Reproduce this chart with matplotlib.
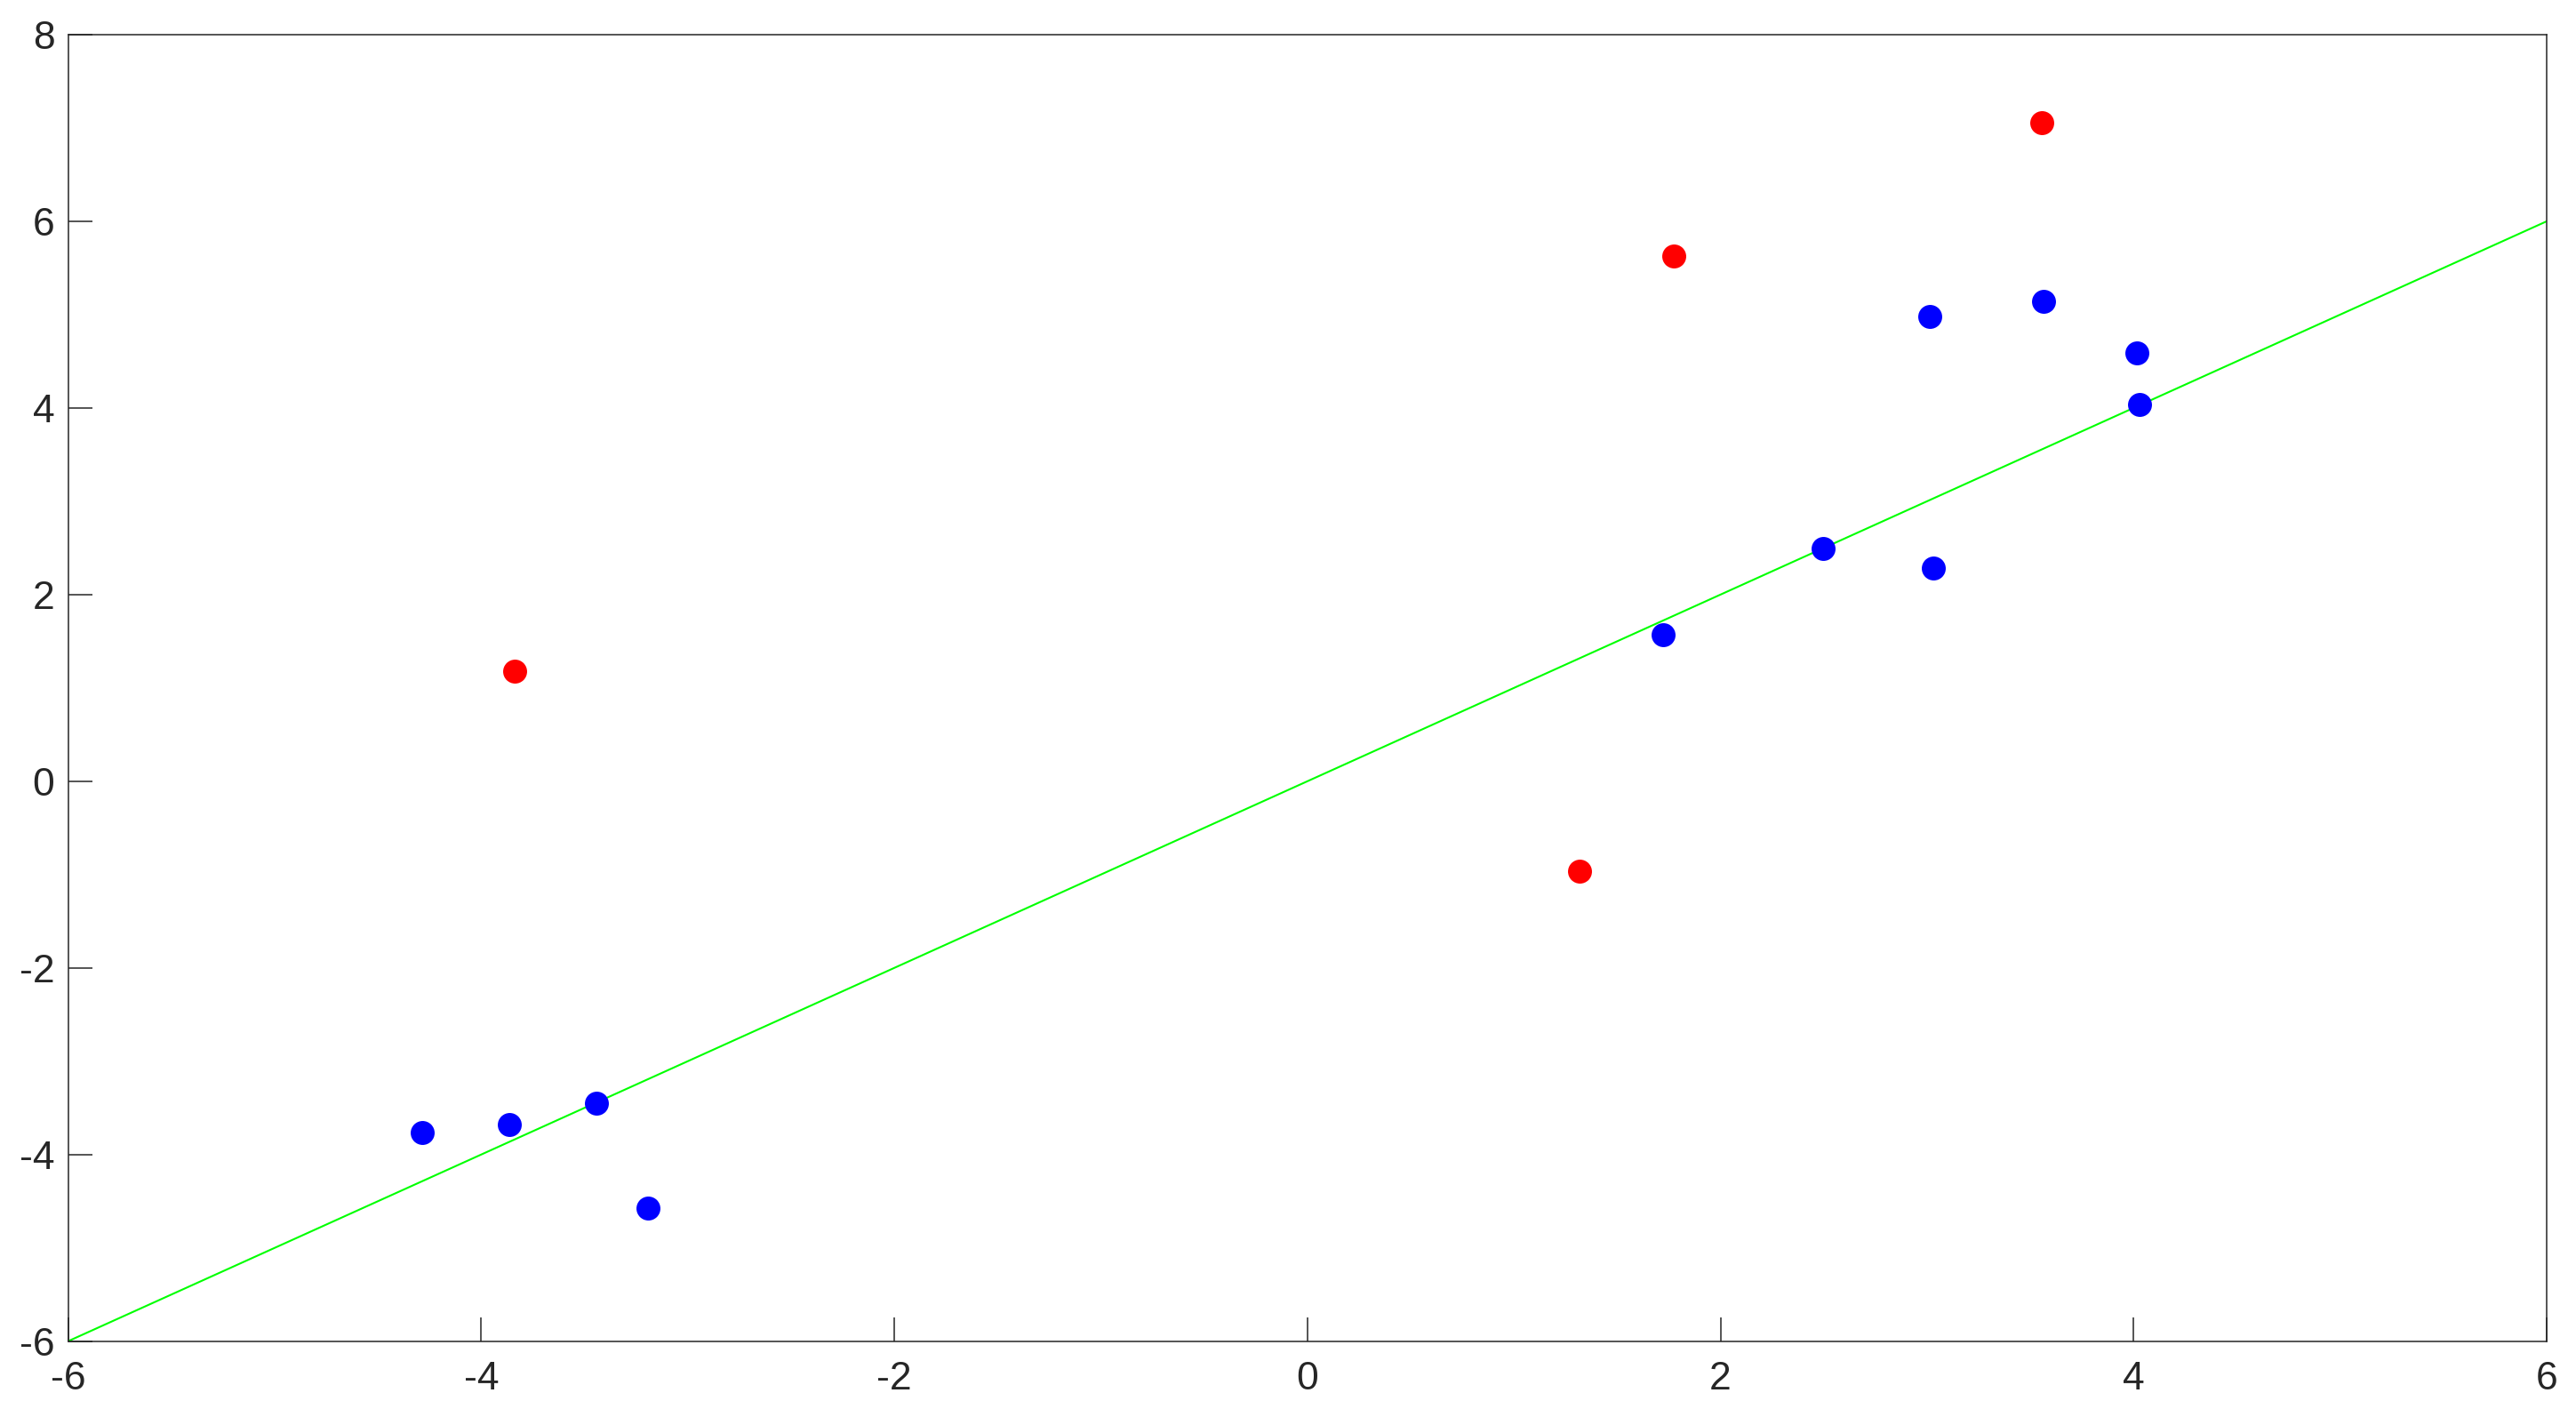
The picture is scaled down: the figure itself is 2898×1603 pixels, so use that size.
import numpy as np
import matplotlib
matplotlib.use('Agg')
from matplotlib import pyplot as plt

plt.rcParams['font.family'] = ['Liberation Sans', 'DejaVu Sans']

# outlier points (red)
red_x = [-3.837, 1.773, 3.554, 1.319]
red_y = [1.179, 5.625, 7.054, -0.964]

# inlier points (blue)
blue_x = [-4.286, -3.863, -3.442, -3.191, 1.722, 2.497, 3.031, 3.013, 3.563, 4.015, 4.030]
blue_y = [-3.767, -3.679, -3.447, -4.574, 1.570, 2.497, 2.284, 4.980, 5.142, 4.589, 4.037]

# fitted line y = x
line_x = [-6, 6]
line_y = [-6, 6]

xticks = [-6, -4, -2, 0, 2, 4, 6]
yticks = [-6, -4, -2, 0, 2, 4, 6, 8]

fig = plt.figure(figsize=(14.49, 8.015), dpi=200)
ax = fig.add_axes([0.02647, 0.05883, 0.96214, 0.91684])

ax.plot(line_x, line_y, color='#00ff00', lw=0.75, zorder=2)
ax.plot(red_x, red_y, 'o', color='#ff0000', ms=9.7, mec='none', zorder=3)
ax.plot(blue_x, blue_y, 'o', color='#0000ff', ms=9.7, mec='none', zorder=3)

ax.set_xlim(-6, 6)
ax.set_ylim(-6, 8)
ax.set_xticks(xticks)
ax.set_yticks(yticks)
ax.set_xticklabels([str(t) for t in xticks])
ax.set_yticklabels([str(t) for t in yticks])

dark = '#262626'
for s in ax.spines.values():
    s.set_color(dark)
    s.set_linewidth(0.55)
ax.tick_params(direction='in', length=9.7, width=0.55, color=dark,
               labelcolor=dark, labelsize=16, top=False, right=False)
ax.tick_params(axis='x', pad=8)
ax.tick_params(axis='y', pad=5.5)

fig.savefig('out.png', dpi=200)
